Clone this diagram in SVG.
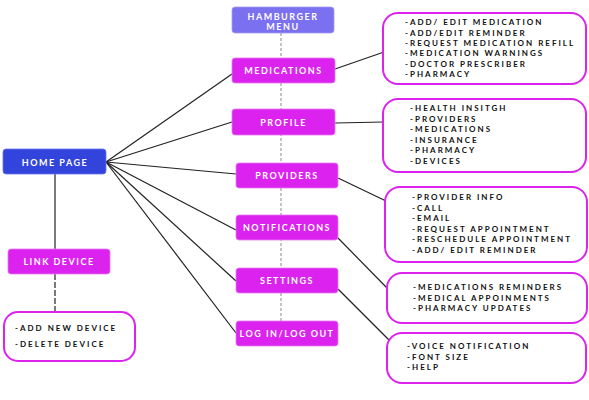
<svg xmlns="http://www.w3.org/2000/svg" width="589" height="400" viewBox="0 0 589 400">
<style>
.node{fill:#dc22ee;stroke:#e67af2;stroke-width:0.8}
.lbl{font-family:"Lato","Liberation Sans",sans-serif;font-weight:bold;font-size:9px;letter-spacing:1.5px;fill:#fff;text-anchor:middle}
.box{fill:#fff;stroke:#dc22ee;stroke-width:2}
.lst{font-family:"Lato","Liberation Sans",sans-serif;font-weight:bold;font-size:8px;letter-spacing:2px;fill:#111}
.con{stroke:#222;stroke-width:1.2;fill:none}
.dash{stroke:#888;stroke-width:1;stroke-dasharray:3 2;fill:none}
</style>
<g id="connectors">
<line class="dash" x1="281" y1="33" x2="281" y2="321"/>
<line class="con" x1="55" y1="174" x2="55" y2="249"/>
<line class="con" x1="55" y1="274" x2="55" y2="312" stroke-dasharray="6 2"/>
<line class="con" x1="106" y1="162" x2="232" y2="74"/>
<line class="con" x1="106" y1="162" x2="232" y2="122"/>
<line class="con" x1="106" y1="162" x2="236" y2="174"/>
<line class="con" x1="106" y1="162" x2="236" y2="230"/>
<line class="con" x1="106" y1="162" x2="236" y2="281"/>
<line class="con" x1="106" y1="162" x2="236" y2="333"/>
<line class="con" x1="335" y1="69" x2="384" y2="52"/>
<line class="con" x1="335" y1="123" x2="384" y2="122"/>
<line class="con" x1="338" y1="178" x2="386" y2="201"/>
<line class="con" x1="338" y1="238" x2="388" y2="289"/>
<line class="con" x1="338" y1="289" x2="389" y2="340"/>
</g>
<g id="home"><rect x="3" y="149" width="103" height="25" rx="3" fill="#3344dd" stroke="#6677ee" stroke-width="0.8"/><text class="lbl" x="55" y="165.5">HOME PAGE</text></g>
<g id="hamburger"><rect x="232" y="7" width="102" height="26" rx="3" fill="#7b70f0" stroke="#a49cf5" stroke-width="0.8"/><text class="lbl" x="283" y="19.5">HAMBURGER</text><text class="lbl" x="283" y="29.5">MENU</text></g>
<g id="medications"><rect class="node" x="232" y="58" width="103" height="25" rx="3"/><text class="lbl" x="283.5" y="74">MEDICATIONS</text></g>
<g id="profile"><rect class="node" x="232" y="109" width="103" height="26" rx="3"/><text class="lbl" x="283.5" y="125.5">PROFILE</text></g>
<g id="providers"><rect class="node" x="236" y="163" width="102" height="25" rx="3"/><text class="lbl" x="287" y="178.5">PROVIDERS</text></g>
<g id="notifications"><rect class="node" x="236" y="215" width="102" height="25" rx="3"/><text class="lbl" x="287" y="231">NOTIFICATIONS</text></g>
<g id="settings"><rect class="node" x="236" y="268" width="102" height="25" rx="3"/><text class="lbl" x="287" y="284">SETTINGS</text></g>
<g id="login"><rect class="node" x="236" y="321" width="102" height="25" rx="3"/><text class="lbl" x="287" y="337">LOG IN/LOG OUT</text></g>
<g id="linkdevice"><rect class="node" x="8" y="249" width="102" height="25" rx="3"/><text class="lbl" x="59" y="265">LINK DEVICE</text></g>
<g id="device-list"><rect class="box" x="4" y="312" width="131" height="49" rx="14"/>
<text class="lst" x="15" y="331">-ADD NEW DEVICE</text><text class="lst" x="15" y="347">-DELETE DEVICE</text></g>
<g id="med-list"><rect class="box" x="383" y="13" width="203" height="71" rx="15"/>
<text class="lst" x="405" y="25">-ADD/ EDIT MEDICATION</text>
<text class="lst" x="405" y="35.5">-ADD/EDIT REMINDER</text>
<text class="lst" x="405" y="46">-REQUEST MEDICATION REFILL</text>
<text class="lst" x="405" y="56">-MEDICATION WARNINGS</text>
<text class="lst" x="405" y="66.5">-DOCTOR PRESCRIBER</text>
<text class="lst" x="405" y="77">-PHARMACY</text></g>
<g id="profile-list"><rect class="box" x="383" y="99" width="203" height="73" rx="15"/>
<text class="lst" x="410" y="111">-HEALTH INSITGH</text>
<text class="lst" x="410" y="121.5">-PROVIDERS</text>
<text class="lst" x="410" y="132">-MEDICATIONS</text>
<text class="lst" x="410" y="142.5">-INSURANCE</text>
<text class="lst" x="410" y="153">-PHARMACY</text>
<text class="lst" x="410" y="164">-DEVICES</text></g>
<g id="providers-list"><rect class="box" x="385" y="187" width="202" height="75" rx="15"/>
<text class="lst" x="412" y="200">-PROVIDER INFO</text>
<text class="lst" x="412" y="210.5">-CALL</text>
<text class="lst" x="412" y="221">-EMAIL</text>
<text class="lst" x="412" y="231.5">-REQUEST APPOINTMENT</text>
<text class="lst" x="412" y="242">-RESCHEDULE APPOINTMENT</text>
<text class="lst" x="412" y="252.5">-ADD/ EDIT REMINDER</text></g>
<g id="notifications-list"><rect class="box" x="387" y="273" width="200" height="50" rx="15"/>
<text class="lst" x="413" y="290">-MEDICATIONS REMINDERS</text>
<text class="lst" x="413" y="300.5">-MEDICAL APPOINMENTS</text>
<text class="lst" x="413" y="311">-PHARMACY UPDATES</text></g>
<g id="settings-list"><rect class="box" x="387" y="333" width="199" height="50" rx="15"/>
<text class="lst" x="407" y="349">-VOICE NOTIFICATION</text>
<text class="lst" x="407" y="359.5">-FONT SIZE</text>
<text class="lst" x="407" y="370">-HELP</text></g>
</svg>
